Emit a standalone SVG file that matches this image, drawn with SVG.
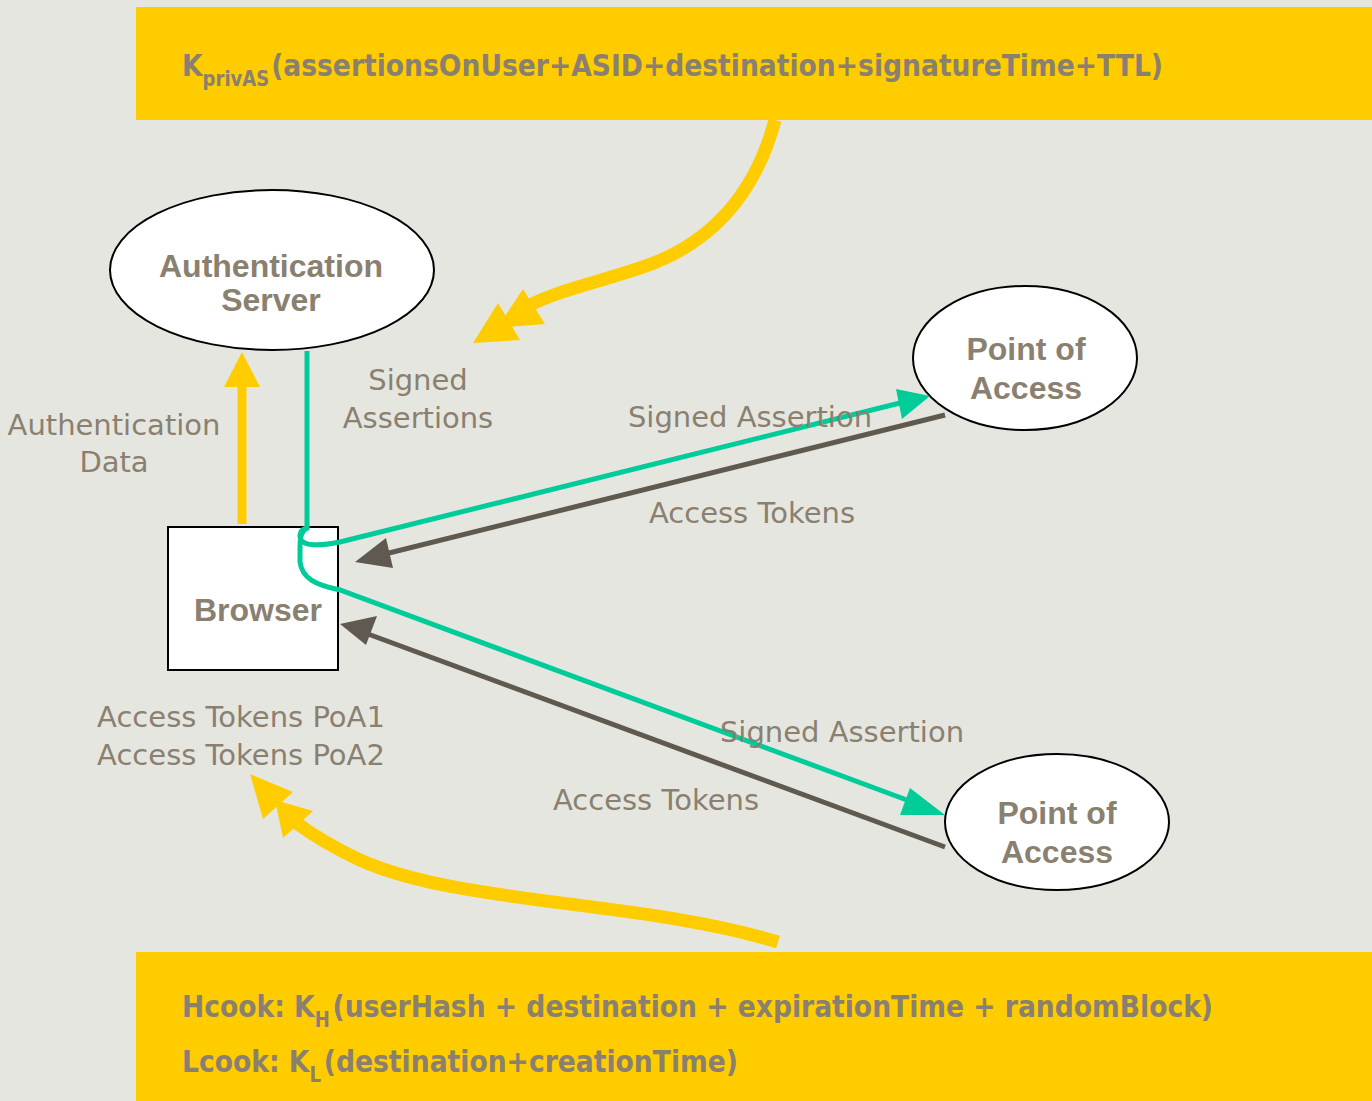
<svg xmlns="http://www.w3.org/2000/svg" width="1372" height="1101" viewBox="0 0 1372 1101">
<style>
.bg{fill:#E6E6E1}
.box{fill:#FFCC00}
.node{fill:#FFFFFF;stroke:#000000;stroke-width:2}
.nt{font-family:"Liberation Sans",Arial,sans-serif;font-weight:bold;font-size:32px;fill:#8A8070;text-anchor:middle}
.lb{font-family:"DejaVu Sans","Liberation Sans",sans-serif;font-size:29px;fill:#8A8070;text-anchor:middle}
.ct{font-family:"DejaVu Sans Condensed","DejaVu Sans",sans-serif;font-weight:bold;font-size:31px;fill:#8A8070}
.sub{font-size:21px}
.yl{fill:none;stroke:#FFCC00;stroke-width:13}
.ya{fill:#FFCC00}
.gr{fill:none;stroke:#00CC99;stroke-width:5}
.ga{fill:#00CC99}
.dk{fill:none;stroke:#5F5950;stroke-width:5}
.da{fill:#5F5950}
</style>
<rect class="bg" x="0" y="0" width="1372" height="1101"/>
<g id="topbox">
<rect class="box" x="136" y="7" width="1236" height="113"/>
<text class="ct" x="182" y="76" textLength="981" lengthAdjust="spacingAndGlyphs">K<tspan class="sub" dy="10">privAS</tspan><tspan dy="-10" dx="2">(assertionsOnUser+ASID+destination+signatureTime+TTL)</tspan></text>
</g>
<g id="bottombox">
<rect class="box" x="136" y="952" width="1236" height="149"/>
<text class="ct" x="182" y="1017" textLength="1031" lengthAdjust="spacingAndGlyphs">Hcook: K<tspan class="sub" dy="10">H</tspan><tspan dy="-10" dx="3">(userHash + destination + expirationTime + randomBlock)</tspan></text>
<text class="ct" x="182" y="1072" textLength="556" lengthAdjust="spacingAndGlyphs">Lcook: K<tspan class="sub" dy="10">L</tspan><tspan dy="-10" dx="3">(destination+creationTime)</tspan></text>
</g>
<g id="auth">
<ellipse class="node" cx="272" cy="270" rx="162" ry="80"/>
<text class="nt" x="271" y="277">Authentication</text>
<text class="nt" x="271" y="311">Server</text>
</g>
<g id="browser">
<rect class="node" x="168" y="527" width="170" height="143"/>
<text class="nt" x="258" y="621">Browser</text>
</g>
<g id="poa1">
<ellipse class="node" cx="1025" cy="358" rx="112" ry="72"/>
<text class="nt" x="1026" y="360">Point of</text>
<text class="nt" x="1026" y="399">Access</text>
</g>
<g id="poa2">
<ellipse class="node" cx="1057" cy="822" rx="112" ry="68"/>
<text class="nt" x="1057" y="824">Point of</text>
<text class="nt" x="1057" y="863">Access</text>
</g>
<g id="connectors">
<path class="yl" d="M775,120 C755,195 710,245 640,268 C595,283 560,290 530,305"/>
<polygon class="ya" points="523,289 545,324 497,328"/>
<polygon class="ya" points="498,303 520,340 473,343"/>
<path class="yl" d="M778,942 C640,900 460,905 360,860 C330,846 310,833 295,822"/>
<polygon class="ya" points="275,800 313,811 283,838"/>
<polygon class="ya" points="250,774 293,792 263,819"/>
<line class="yl" x1="242" y1="524" x2="242" y2="380" style="stroke-width:9"/>
<polygon class="ya" points="242,352 260,387 224,387"/>
<path class="gr" d="M307,351 L307,528 C298,530 298,540 305,543 C312,546 325,545 340,542 L900,403"/>
<polygon class="ga" points="930,396 896,389 902,419"/>
<path class="gr" d="M307,528 C300,532 300,540 300,550 L300,562 C302,578 315,585 340,590 L915,803"/>
<polygon class="ga" points="945,815 910,788 900,815"/>
<line class="dk" x1="945" y1="415" x2="385" y2="554"/>
<polygon class="da" points="355,562 386,538 393,568"/>
<line class="dk" x1="945" y1="847" x2="368" y2="634"/>
<polygon class="da" points="340,624 377,616 366,645"/>
</g>
<g id="labels">
<text class="lb" x="114" y="435">Authentication</text>
<text class="lb" x="114" y="472">Data</text>
<text class="lb" x="418" y="390">Signed</text>
<text class="lb" x="418" y="428">Assertions</text>
<text class="lb" x="750" y="427">Signed Assertion</text>
<text class="lb" x="752" y="523">Access Tokens</text>
<text class="lb" x="241" y="727">Access Tokens PoA1</text>
<text class="lb" x="241" y="765">Access Tokens PoA2</text>
<text class="lb" x="842" y="742">Signed Assertion</text>
<text class="lb" x="656" y="810">Access Tokens</text>
</g>
</svg>
